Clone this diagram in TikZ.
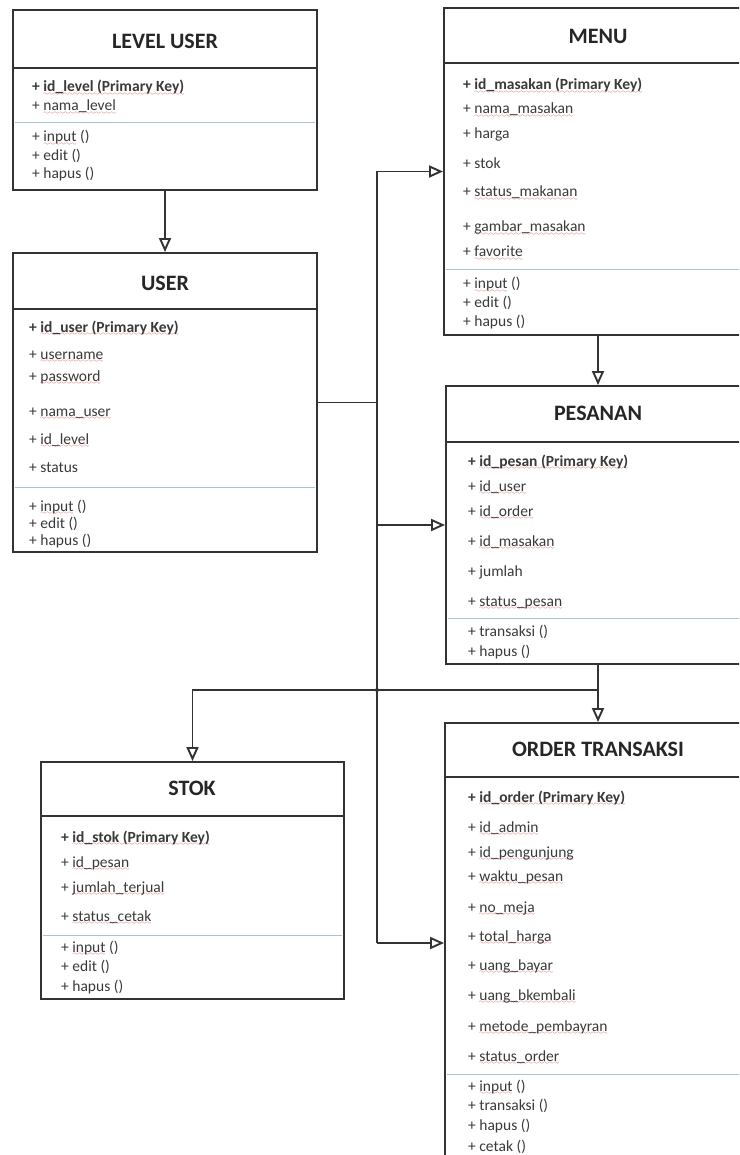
\documentclass[tikz,border=0pt]{standalone}
\usepackage{fontspec}
\setmainfont{Carlito}
\usetikzlibrary{arrows.meta,fit}
\definecolor{edge}{HTML}{333333}
\definecolor{txt}{HTML}{3A3A3A}
\definecolor{divc}{HTML}{A9C2D2}
\definecolor{wave}{HTML}{D03A3A}
\font\wavefont=lasy6
\newcommand\sq[1]{\leavevmode\setbox0\hbox{#1}\rlap{\color{wave}\raisebox{-3.2pt}[0pt][0pt]{\hbox to \wd0{\xleaders\hbox{\wavefont\char58}\hfil}}}\box0\relax}
\begin{document}
\begin{tikzpicture}[x=1pt,y=-1pt,
 box/.style={draw=edge, line width=1.9pt, inner sep=0pt, fill=white},
 title/.style={font=\fontsize{22}{22}\selectfont\bfseries, text=black!85, inner sep=0pt},
 attr/.style={anchor=base west, font=\fontsize{15.5}{15.5}\selectfont, text=txt, inner sep=0pt},
 tdiv/.style={draw=edge, line width=1.9pt},
 adiv/.style={draw=divc, line width=1pt},
 conn/.style={draw=edge, line width=1.9pt},
 tip/.style={-{Triangle[open, length=14pt, width=12pt, fill=white]}},
]
\useasboundingbox (0,0) rectangle (739,1155);
\clip (0,0) rectangle (739,1155);
\fill[white] (0,0) rectangle (739,1155);

% ---------- boxes ----------
\node[box, fit={(13,10)(317,190)}] (lvl) {};
\node[box, fit={(13,253)(317,552)}] (usr) {};
\node[box, fit={(444,8)(752,335)}] (menu) {};
\node[box, fit={(446,386)(750,664)}] (pes) {};
\node[box, fit={(445,723)(751,1163)}] (ord) {};
\node[box, fit={(41,762)(344,999)}] (stok) {};

% title dividers
\draw[tdiv] (13,68) -- (317,68);
\draw[tdiv] (13,309) -- (317,309);
\draw[tdiv] (444,63) -- (752,63);
\draw[tdiv] (446,442) -- (750,442);
\draw[tdiv] (445,777) -- (751,777);
\draw[tdiv] (41,816) -- (344,816);
% attribute / method dividers
\draw[adiv] (15,123) -- (315,123);
\draw[adiv] (15,487) -- (315,487);
\draw[adiv] (446,270) -- (750,270);
\draw[adiv] (448,618) -- (748,618);
\draw[adiv] (447,1074) -- (749,1074);
\draw[adiv] (43,935) -- (342,935);

% ---------- titles ----------
\node[title] (tlvl) at (165,41) {LEVEL USER};
\node[title] (tusr) at (165,283) {USER};
\node[title] (tmenu) at (598,36) {MENU};
\node[title] (tpes) at (598,413) {PESANAN};
\node[title] (tord) at (598,749) {ORDER TRANSAKSI};
\node[title] (tstok) at (192,788) {STOK};

% ---------- LEVEL USER ----------
\node[attr] (l1) at (32,92) {\textbf{+ \sq{id\_level (Primary Key)}}};
\node[attr] (l2) at (32,111) {+ \sq{nama\_level}};
\node[attr] (l3) at (32,142) {+ \sq{input} ()};
\node[attr] (l4) at (32,161) {+ edit ()};
\node[attr] (l5) at (32,179) {+ hapus ()};

% ---------- USER ----------
\node[attr] (u1) at (29,332) {\textbf{+ \sq{id\_user (Primary Key)}}};
\node[attr] (u2) at (29,359) {+ \sq{username}};
\node[attr] (u3) at (29,381) {+ \sq{password}};
\node[attr] (u4) at (29,416) {+ \sq{nama\_user}};
\node[attr] (u5) at (29,444) {+ \sq{id\_level}};
\node[attr] (u6) at (29,472) {+ status};
\node[attr] (u7) at (29,511) {+ \sq{input} ()};
\node[attr] (u8) at (29,528) {+ edit ()};
\node[attr] (u9) at (29,545) {+ hapus ()};

% ---------- MENU ----------
\node[attr] (m1) at (463,90) {\textbf{+ \sq{id\_masakan (Primary Key)}}};
\node[attr] (m2) at (463,114) {+ \sq{nama\_masakan}};
\node[attr] (m3) at (463,139) {+ harga};
\node[attr] (m4) at (463,169) {+ stok};
\node[attr] (m5) at (463,197) {+ \sq{status\_makanan}};
\node[attr] (m6) at (463,232) {+ \sq{gambar\_masakan}};
\node[attr] (m7) at (463,257) {+ \sq{favorite}};
\node[attr] (m8) at (463,289) {+ \sq{input} ()};
\node[attr] (m9) at (463,307) {+ edit ()};
\node[attr] (m10) at (463,326) {+ hapus ()};

% ---------- PESANAN ----------
\node[attr] (p1) at (468,466) {\textbf{+ \sq{id\_pesan (Primary Key)}}};
\node[attr] (p2) at (468,491) {+ \sq{id\_user}};
\node[attr] (p3) at (468,516) {+ \sq{id\_order}};
\node[attr] (p4) at (468,546) {+ \sq{id\_masakan}};
\node[attr] (p5) at (468,576) {+ jumlah};
\node[attr] (p6) at (468,606) {+ \sq{status\_pesan}};
\node[attr] (p7) at (468,636) {+ transaksi ()};
\node[attr] (p8) at (468,656) {+ hapus ()};

% ---------- STOK ----------
\node[attr] (s1) at (61,842) {\textbf{+ \sq{id\_stok (Primary Key)}}};
\node[attr] (s2) at (61,867) {+ \sq{id\_pesan}};
\node[attr] (s3) at (61,892) {+ \sq{jumlah\_terjual}};
\node[attr] (s4) at (61,921) {+ \sq{status\_cetak}};
\node[attr] (s5) at (61,952) {+ \sq{input} ()};
\node[attr] (s6) at (61,971) {+ edit ()};
\node[attr] (s7) at (61,991) {+ hapus ()};

% ---------- ORDER TRANSAKSI ----------
\node[attr] (o1) at (468,802) {\textbf{+ \sq{id\_order (Primary Key)}}};
\node[attr] (o2) at (468,832) {+ \sq{id\_admin}};
\node[attr] (o3) at (468,857) {+ \sq{id\_pengunjung}};
\node[attr] (o4) at (468,881) {+ \sq{waktu\_pesan}};
\node[attr] (o5) at (468,912) {+ \sq{no\_meja}};
\node[attr] (o6) at (468,941) {+ \sq{total\_harga}};
\node[attr] (o7) at (468,970) {+ \sq{uang\_bayar}};
\node[attr] (o8) at (468,1000) {+ \sq{uang\_bkembali}};
\node[attr] (o9) at (468,1031) {+ \sq{metode\_pembayran}};
\node[attr] (o10) at (468,1061) {+ \sq{status\_order}};
\node[attr] (o11) at (468,1091) {+ \sq{input} ()};
\node[attr] (o12) at (468,1110) {+ transaksi ()};
\node[attr] (o13) at (468,1130) {+ hapus ()};
\node[attr] (o14) at (468,1151) {+ cetak ()};

% ---------- connectors ----------
\coordinate (bus) at (377,403);
\coordinate (split) at (598,690);
\draw[conn,tip] (lvl.south) -- (usr.north);
\draw[conn] (usr.east) -- (usr.east -| bus);
\draw[conn] (menu.west -| bus) -- (ord.west -| bus);
\draw[conn,tip] (menu.west -| bus) -- (menu.west);
\draw[conn,tip] (pes.west -| bus) -- (pes.west);
\draw[conn,tip] (ord.west -| bus) -- (ord.west);
\draw[conn,tip] (menu.south) -- (pes.north);
\draw[conn,tip] (pes.south) -- (ord.north);
\draw[conn,tip] (split) -| (stok.north);
\fill[edge] (bus |- split) circle (2pt);
\end{tikzpicture}
\end{document}
